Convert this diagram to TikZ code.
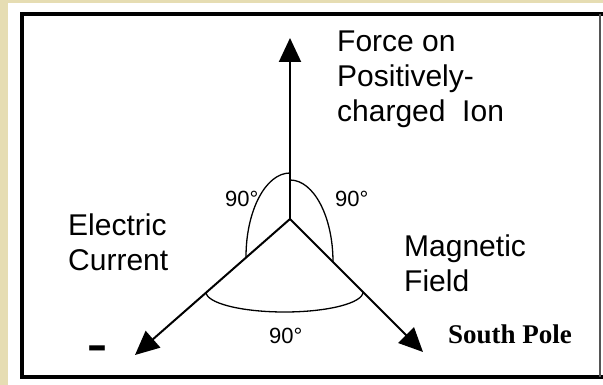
\documentclass[tikz,border=0pt]{standalone}
\usepackage{fontspec}
\setmainfont{Liberation Sans}
\newfontfamily\serifbold{Liberation Serif}
\usetikzlibrary{arrows.meta,positioning}
\definecolor{parchment}{HTML}{E6DDB3}
\definecolor{framegray}{HTML}{555555}
\tikzset{
  axistext/.style={anchor=north west,align=left,inner sep=0pt,font=\fontsize{30}{35}\selectfont},
  degtext/.style={anchor=base west,inner sep=0pt,font=\fontsize{22}{26}\selectfont},
  vecarrow/.style={-{Triangle[length=24pt,width=22pt]},line width=2pt},
  anglearc/.style={line width=1.3pt},
}

\begin{document}
\begin{tikzpicture}[x=1pt,y=-1pt]
  \useasboundingbox (0,0) rectangle (603,385);
  \fill[parchment] (0,0) rectangle (603,385);
  \fill[white] (8,3) rectangle (603,385);
  \draw[line width=4.5pt] (603,14) -- (22,14) -- (22,377) -- (603,377);
  \draw[framegray,line width=1.5pt] (600,14) -- (600,377);
  % the three vectors
  \coordinate (o) at (290,219);
  \coordinate (force) at (290,38);
  \coordinate (current) at (135,355);
  \coordinate (field) at (423,352);
  \draw[vecarrow] (o) -- (force);
  \draw[vecarrow] (o) -- (current);
  \draw[vecarrow] (o) -- (field);
  % right angle marks
  \draw[anglearc] (290,173) arc[start angle=-90,end angle=-180,x radius=44,y radius=84];
  \draw[anglearc] (290,180) arc[start angle=-90,end angle=0,x radius=43,y radius=82];
  \draw[anglearc] (206,292) arc[start angle=180,end angle=0,x radius=78.5,y radius=20];
  % labels
  \node[axistext] (forcetxt) at (337,30.5) {Force on\\Positively-\\charged\ \ Ion};
  \node[axistext] (currenttxt) at (68,213.5) {Electric\\Current};
  \node[axistext] (fieldtxt) at (404,234.5) {Magnetic\\Field};
  \node[degtext] (degleft) at (225,207) {90°};
  \node[degtext] (degright) at (335,207) {90°};
  \node[degtext] (degbottom) at (269,343) {90°};
  \node[anchor=base west,inner sep=0pt,font=\serifbold\bfseries\fontsize{27}{30}\selectfont] (pole) at (448,343) {South Pole};
  \node[anchor=north,inner sep=0pt,font=\serifbold\bfseries\fontsize{60}{60}\selectfont] (minus) at (97,346) {-};
\end{tikzpicture}
\end{document}
